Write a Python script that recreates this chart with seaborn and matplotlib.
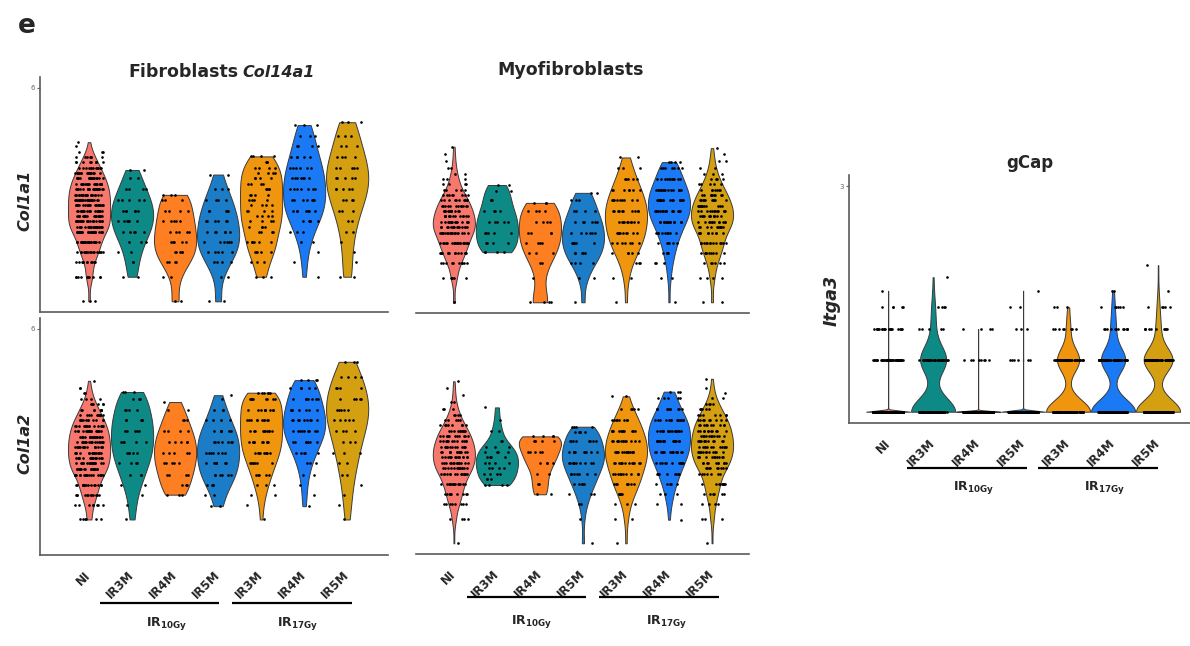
import numpy as np
import pandas as pd
import matplotlib
matplotlib.use("Agg")
import matplotlib.pyplot as plt
import seaborn as sns
from matplotlib.transforms import blended_transform_factory

# ---------------- data ----------------
CATEGORIES = ["NI", "IR3M_10", "IR4M_10", "IR5M_10", "IR3M_17", "IR4M_17", "IR5M_17"]
TICK_LABELS = ["NI", "IR3M", "IR4M", "IR5M", "IR3M", "IR4M", "IR5M"]
COLORS = ["#F8786E", "#0E8A86", "#FD7F22", "#1B7CC8", "#F0960E", "#1A79F4", "#D4A011"]
GROUP_LABELS = ["IR$_{\\mathbf{10Gy}}$", "IR$_{\\mathbf{17Gy}}$"]

# Fibroblasts Col14a1 - Col1a1 (expression levels and number of cells at each level)
FIB_COL1A1_LEVELS = [
    [0, 0.69, 1.10, 1.38, 1.66, 1.94, 2.10, 2.25, 2.40, 2.55, 2.70, 2.85, 3.00, 3.15, 3.30, 3.45, 3.60, 3.75, 3.90, 4.05, 4.20, 4.35, 4.47],
    [0.69, 1.10, 1.38, 1.66, 1.94, 2.25, 2.55, 2.85, 3.15, 3.45, 3.69],
    [0, 0.69, 1.10, 1.38, 1.66, 1.94, 2.25, 2.55, 2.85, 2.99],
    [0, 0.69, 1.10, 1.38, 1.66, 1.94, 2.25, 2.55, 2.85, 3.15, 3.56],
    [0.69, 1.10, 1.38, 1.66, 1.94, 2.10, 2.25, 2.40, 2.55, 2.70, 2.85, 3.00, 3.15, 3.30, 3.45, 3.60, 3.75, 3.90, 4.07],
    [0.69, 1.10, 1.38, 1.66, 1.94, 2.25, 2.55, 2.85, 3.15, 3.45, 3.75, 4.05, 4.35, 4.65, 4.95],
    [0.69, 1.10, 1.38, 1.66, 1.94, 2.25, 2.55, 2.85, 3.15, 3.45, 3.75, 4.05, 4.35, 4.65, 5.03],
]
FIB_COL1A1_COUNTS = [
    [3, 10, 11, 18, 25, 25, 22, 22, 22, 22, 22, 22, 22, 21, 20, 17, 15, 12, 9, 7, 3, 1, 1],
    [2, 2, 2, 3, 5, 6, 6, 5, 4, 2, 2],
    [2, 2, 4, 5, 5, 5, 5, 4, 3, 3],
    [2, 2, 4, 5, 6, 6, 6, 5, 4, 3, 2],
    [3, 3, 5, 6, 4, 4, 4, 4, 4, 4, 4, 4, 4, 4, 4, 4, 4, 3, 4],
    [1, 1, 1, 2, 3, 5, 7, 7, 7, 7, 6, 5, 4, 3, 3],
    [2, 1, 1, 1, 2, 2, 3, 4, 5, 5, 5, 4, 3, 3, 3],
]

# Fibroblasts Col14a1 - Col1a2
FIB_COL1A2_LEVELS = [
    [0.69, 1.10, 1.38, 1.66, 1.94, 2.10, 2.25, 2.40, 2.55, 2.70, 2.85, 3.00, 3.15, 3.30, 3.45, 3.60, 3.75, 3.90, 4.05, 4.20, 4.35, 4.55],
    [0.69, 1.10, 1.38, 1.66, 1.94, 2.25, 2.55, 2.85, 3.15, 3.45, 3.75, 4.05, 4.24],
    [1.38, 1.66, 1.94, 2.25, 2.55, 2.85, 3.15, 3.45, 3.75, 3.96],
    [1.06, 1.38, 1.66, 1.94, 2.25, 2.55, 2.85, 3.15, 3.45, 3.75, 4.05, 4.15],
    [0.69, 1.10, 1.38, 1.66, 1.94, 2.25, 2.55, 2.85, 3.15, 3.45, 3.75, 4.05, 4.22],
    [1.06, 1.38, 1.66, 1.94, 2.25, 2.55, 2.85, 3.15, 3.45, 3.75, 4.05, 4.35, 4.57],
    [0.69, 1.10, 1.38, 1.66, 1.94, 2.25, 2.55, 2.85, 3.15, 3.45, 3.75, 4.05, 4.35, 4.65, 5.08],
]
FIB_COL1A2_COUNTS = [
    [6, 8, 12, 17, 18, 16, 17, 18, 18, 18, 18, 17, 17, 15, 13, 11, 8, 6, 4, 2, 2, 1],
    [1, 1, 1, 2, 3, 4, 5, 5, 5, 5, 4, 3, 3],
    [3, 3, 4, 5, 5, 5, 4, 3, 2, 1],
    [2, 2, 4, 6, 7, 7, 7, 6, 4, 3, 1, 1],
    [1, 1, 2, 3, 5, 7, 9, 10, 10, 10, 10, 8, 6],
    [1, 1, 1, 2, 3, 5, 7, 9, 9, 8, 7, 5, 4],
    [1, 1, 1, 1, 2, 2, 3, 3, 4, 5, 5, 5, 4, 4, 3],
]

# Myofibroblasts - Col1a1
MYO_COL1A1_LEVELS = [
    [0, 0.69, 1.10, 1.38, 1.66, 1.94, 2.10, 2.25, 2.40, 2.55, 2.70, 2.85, 3.00, 3.15, 3.30, 3.45, 3.60, 3.75, 3.95, 4.15, 4.35],
    [1.40, 1.66, 1.94, 2.25, 2.55, 2.85, 3.10, 3.28],
    [0, 0.69, 1.10, 1.38, 1.66, 1.94, 2.25, 2.55, 2.78],
    [0, 0.69, 1.10, 1.38, 1.66, 1.94, 2.25, 2.55, 2.85, 3.06],
    [0, 0.69, 1.10, 1.38, 1.66, 1.94, 2.25, 2.55, 2.85, 3.15, 3.45, 3.75, 4.05],
    [0, 0.69, 1.10, 1.38, 1.66, 1.94, 2.25, 2.55, 2.85, 3.15, 3.45, 3.75, 3.92],
    [0, 0.69, 1.10, 1.38, 1.66, 1.94, 2.10, 2.25, 2.40, 2.55, 2.70, 2.85, 3.00, 3.15, 3.30, 3.45, 3.60, 3.75, 3.95, 4.15, 4.31],
]
MYO_COL1A1_COUNTS = [
    [2, 6, 10, 14, 20, 19, 15, 15, 14, 13, 12, 10, 8, 5, 4, 3, 2, 2, 1, 1, 1],
    [4, 4, 5, 5, 4, 3, 2, 2],
    [4, 1, 2, 3, 4, 4, 4, 4, 3],
    [1, 2, 4, 5, 6, 6, 6, 4, 3, 2],
    [1, 2, 3, 5, 7, 9, 10, 10, 9, 7, 5, 3, 2],
    [1, 2, 3, 4, 6, 9, 14, 17, 17, 15, 11, 7, 4],
    [2, 4, 6, 9, 13, 10, 11, 12, 12, 12, 11, 10, 9, 7, 5, 4, 3, 2, 2, 1, 1],
]

# Myofibroblasts - Col1a2
MYO_COL1A2_LEVELS = [
    [0, 0.69, 1.10, 1.38, 1.66, 1.94, 2.10, 2.25, 2.40, 2.55, 2.70, 2.85, 3.00, 3.15, 3.30, 3.45, 3.60, 3.75, 3.95, 4.15, 4.35, 4.53],
    [1.63, 1.79, 1.94, 2.10, 2.25, 2.40, 2.55, 2.70, 2.85, 3.15, 3.45, 3.80],
    [1.37, 1.66, 1.94, 2.25, 2.55, 2.85, 2.99],
    [0, 0.69, 1.10, 1.38, 1.66, 1.94, 2.25, 2.55, 2.85, 3.10, 3.26],
    [0, 0.69, 1.10, 1.38, 1.66, 1.94, 2.25, 2.55, 2.85, 3.15, 3.45, 3.75, 4.11],
    [0.66, 1.10, 1.38, 1.66, 1.94, 2.25, 2.55, 2.85, 3.15, 3.45, 3.75, 4.05, 4.24],
    [0, 0.69, 1.10, 1.38, 1.66, 1.94, 2.10, 2.25, 2.40, 2.55, 2.70, 2.85, 3.00, 3.15, 3.30, 3.45, 3.60, 3.75, 3.90, 4.05, 4.20, 4.35, 4.60],
]
MYO_COL1A2_COUNTS = [
    [1, 4, 8, 10, 14, 15, 13, 14, 15, 15, 14, 13, 12, 10, 8, 5, 4, 3, 2, 1, 1, 1],
    [4, 3, 4, 4, 4, 4, 4, 3, 2, 2, 1, 1],
    [2, 2, 2, 4, 5, 5, 4],
    [1, 1, 2, 3, 5, 7, 10, 10, 8, 5, 4],
    [1, 2, 3, 5, 8, 10, 13, 14, 13, 11, 8, 5, 2],
    [1, 2, 3, 5, 8, 12, 15, 16, 16, 14, 9, 5, 3],
    [1, 3, 4, 6, 9, 7, 9, 10, 11, 12, 12, 12, 11, 11, 10, 9, 7, 5, 4, 2, 1, 1, 1],
]

# gCap - Itga3 (discrete expression levels, cells per level)
GCAP_ITGA3_LEVELS = [0, 0.69, 1.10, 1.39, 1.61, 1.79, 1.95]
GCAP_ITGA3_COUNTS = [
    [1500, 45, 20, 5, 1, 0, 0],
    [60, 35, 5, 4, 0, 1, 0],
    [600, 8, 4, 0, 0, 0, 0],
    [500, 6, 3, 2, 1, 0, 0],
    [90, 45, 8, 3, 0, 0, 0],
    [110, 60, 12, 6, 2, 0, 0],
    [100, 65, 10, 5, 1, 0, 1],
]
# groups of the gCap panel whose cells are almost all at zero (drawn as a thin line)
GCAP_SPARSE = ["NI", "IR4M_10", "IR5M_10"]


def make_df(levels_list, counts_list):
    groups, values = [], []
    for cat, lv, ct in zip(CATEGORIES, levels_list, counts_list):
        v = np.repeat(np.asarray(lv, float), np.asarray(ct, int))
        values.append(v)
        groups += [cat] * len(v)
    return pd.DataFrame({"group": groups, "value": np.concatenate(values)})


# ---------------- figure ----------------
sns.set_theme(style="white")
plt.rcParams["font.family"] = ["DejaVu Sans"]
np.random.seed(3)

W, H = 1190, 646
fig = plt.figure(figsize=(W / 100, H / 100), dpi=100)
fig.patch.set_facecolor("white")


def axes_px(x0, y0, x1, y1):
    return fig.add_axes([x0 / W, 1 - y1 / H, (x1 - x0) / W, (y1 - y0) / H])


SPINE = "#5a5a5a"


def violins(ax, df, bw_adjust):
    sns.violinplot(data=df, x="group", y="value", hue="group", order=CATEGORIES,
                   hue_order=CATEGORIES, palette=COLORS, density_norm="width", cut=0,
                   inner=None, linewidth=0.7, linecolor="#3a3a3a", width=0.98,
                   saturation=1, bw_method="silverman", bw_adjust=bw_adjust, dodge=False,
                   legend=False, ax=ax)


def draw_panel(ax, df, xlim, ylim, ytick=None, left=True, xticks=False, line_y=None, label_y=None,
               lines=None, label_x=None, bw_adjust=0.8, sparse=None):
    if sparse:
        mask = df["group"].isin(sparse)
        violins(ax, df[~mask], bw_adjust)
        violins(ax, df[mask], 0.3)
    else:
        violins(ax, df, bw_adjust)
    sns.stripplot(data=df, x="group", y="value", order=CATEGORIES, color="black",
                  size=1.9, jitter=0.33, linewidth=0, ax=ax, zorder=3)
    ax.set_xlabel("")
    ax.set_ylabel("")
    for s in ["top", "right"]:
        ax.spines[s].set_visible(False)
    ax.spines["bottom"].set_color(SPINE)
    ax.spines["bottom"].set_linewidth(1.2)
    if left:
        ax.spines["left"].set_color(SPINE)
        ax.spines["left"].set_linewidth(1.2)
    else:
        ax.spines["left"].set_visible(False)
    if ytick is not None:
        ax.set_yticks([ytick])
        ax.set_yticklabels([str(ytick)], fontsize=5, color="#666666")
        ax.tick_params(axis="y", length=2.5, width=0.8, color="#666666", pad=1, left=True)
    else:
        ax.set_yticks([])
    if xticks:
        ax.set_xticks(range(len(CATEGORIES)))
        ax.set_xticklabels(TICK_LABELS, rotation=45, ha="right", va="center",
                           rotation_mode="anchor", fontsize=8.5, fontweight="bold")
        ax.tick_params(axis="x", length=0, pad=13)
        blend = blended_transform_factory(ax.transData, fig.transFigure)
        yl = 1 - line_y / H
        yt = 1 - label_y / H
        for (a, b), lx, lab in zip(lines, label_x, GROUP_LABELS):
            ax.plot([a, b], [yl, yl], transform=blend, color="black", lw=1.6, clip_on=False,
                    solid_capstyle="butt")
            ax.text(lx, yt, lab, transform=blend, ha="center", va="center", fontsize=9,
                    fontweight="bold")
    else:
        ax.set_xticks([])
    ax.set_xlim(*xlim)
    ax.set_ylim(*ylim)
    ax.patch.set_alpha(0)


# Fibroblasts
ax1 = axes_px(40, 77, 388, 312)
draw_panel(ax1, make_df(FIB_COL1A1_LEVELS, FIB_COL1A1_COUNTS), (-1.14, 6.95), (-0.3, 6.3), ytick=6)
ax2 = axes_px(40, 318, 388, 555)
draw_panel(ax2, make_df(FIB_COL1A2_LEVELS, FIB_COL1A2_COUNTS), (-1.14, 6.95), (-0.3, 6.3), ytick=6,
           xticks=True, line_y=603, label_y=623, lines=[(0.26, 3.02), (3.33, 6.12)],
           label_x=[1.8, 4.85])

# Myofibroblasts
ax3 = axes_px(416, 77, 749, 313)
draw_panel(ax3, make_df(MYO_COL1A1_LEVELS, MYO_COL1A1_COUNTS), (-0.88, 6.86), (-0.3, 6.3), left=False)
ax4 = axes_px(416, 318, 749, 554)
draw_panel(ax4, make_df(MYO_COL1A2_LEVELS, MYO_COL1A2_COUNTS), (-0.88, 6.86), (-0.3, 6.3), left=False,
           xticks=True, line_y=597, label_y=622, lines=[(0.30, 3.07), (3.37, 6.16)],
           label_x=[1.81, 4.95])

# gCap
gcap_levels = [GCAP_ITGA3_LEVELS] * len(CATEGORIES)
ax5 = axes_px(849, 175, 1190, 423)
draw_panel(ax5, make_df(gcap_levels, GCAP_ITGA3_COUNTS), (-0.87, 6.71), (-0.15, 3.15), ytick=3,
           xticks=True, line_y=468, label_y=488, lines=[(0.42, 3.09), (3.33, 6.0)],
           label_x=[1.89, 4.82], bw_adjust=1.0, sparse=GCAP_SPARSE)

# Titles and labels
def ftext(x, y, s, **kw):
    fig.text(x / W, 1 - y / H, s, **kw)

ftext(18, 33, "e", fontsize=19, fontweight="bold", ha="left", va="baseline")
ftext(238, 77, "Fibroblasts", fontsize=12.5, fontweight="bold", ha="right", va="baseline")
ftext(242, 77, "Col14a1", fontsize=11.5, fontweight="bold", style="italic", ha="left", va="baseline")
ftext(571, 75, "Myofibroblasts", fontsize=12.5, fontweight="bold", ha="center", va="baseline")
ftext(1030, 168, "gCap", fontsize=12, fontweight="bold", ha="center", va="baseline")
ftext(25, 200, "Col1a1", fontsize=11.5, fontweight="bold", style="italic", rotation=90,
      ha="center", va="center")
ftext(25, 443, "Col1a2", fontsize=11.5, fontweight="bold", style="italic", rotation=90,
      ha="center", va="center")
ftext(832, 300, "Itga3", fontsize=12.5, fontweight="bold", style="italic", rotation=90,
      ha="center", va="center")

fig.savefig("out.png", dpi=100, facecolor="white")
